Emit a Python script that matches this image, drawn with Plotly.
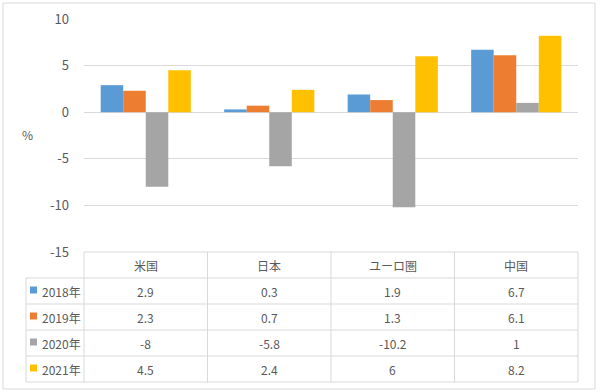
import plotly.graph_objects as go

categories = ["米国", "日本", "ユーロ圏", "中国"]
series_names = ["2018年", "2019年", "2020年", "2021年"]
v2018 = [2.9, 0.3, 1.9, 6.7]
v2019 = [2.3, 0.7, 1.3, 6.1]
v2020 = [-8, -5.8, -10.2, 1]
v2021 = [4.5, 2.4, 6, 8.2]
tick_vals = [10, 5, 0, -5, -10, -15]
tick_text = ["10", "5", "0", "-5", "-10", "-15"]
y_title = "%"

series_values = [v2018, v2019, v2020, v2021]
colors = ["#5B9BD5", "#ED7D31", "#A5A5A5", "#FFC000"]

W, H = 600, 392
ML, MR, MT, MB = 84, 22, 19, 140
PW = W - ML - MR
PH = H - MT - MB
FONT = "Noto Sans CJK JP, Noto Sans, sans-serif"
TXT = "#595959"
LINE = "#D9D9D9"


def px(xp):
    return (xp - ML) / PW


def py(yp):
    return (H - MB - yp) / PH


fig = go.Figure()
for name, vals, col in zip(series_names, series_values, colors):
    fig.add_trace(go.Bar(x=categories, y=vals, name=name, marker_color=col,
                         marker_line_width=0, showlegend=False))

shapes = []
annotations = []

# outer border
shapes.append(dict(type="rect", xref="paper", yref="paper",
                   x0=px(3), x1=px(595), y0=py(389), y1=py(3),
                   line=dict(color=LINE, width=1)))

n = len(categories)
table_top = H - MB
row_h = 26
rows_y = [table_top + i * row_h for i in range(len(series_names) + 2)]
leg_left = 26

# horizontal table lines
shapes.append(dict(type="line", xref="paper", yref="paper", x0=0, x1=1,
                   y0=py(rows_y[0]), y1=py(rows_y[0]), line=dict(color=LINE, width=1)))
for yy in rows_y[1:]:
    shapes.append(dict(type="line", xref="paper", yref="paper", x0=px(leg_left), x1=1,
                       y0=py(yy), y1=py(yy), line=dict(color=LINE, width=1)))
# vertical table lines
shapes.append(dict(type="line", xref="paper", yref="paper", x0=px(leg_left), x1=px(leg_left),
                   y0=py(rows_y[1]), y1=py(rows_y[-1]), line=dict(color=LINE, width=1)))
for i in range(n + 1):
    shapes.append(dict(type="line", xref="paper", yref="paper", x0=i / n, x1=i / n,
                       y0=py(rows_y[0]), y1=py(rows_y[-1]), line=dict(color=LINE, width=1)))


def label(x, y, text, xanchor="center"):
    return dict(xref="paper", yref="paper", x=x, y=y, text=text, showarrow=False,
                xanchor=xanchor, yanchor="middle",
                font=dict(size=12, color=TXT, family=FONT))


# header
for i, c in enumerate(categories):
    annotations.append(label((i + 0.5) / n, py((rows_y[0] + rows_y[1]) / 2), c))

# rows
for r, (name, vals, col) in enumerate(zip(series_names, series_values, colors)):
    ymid = (rows_y[r + 1] + rows_y[r + 2]) / 2
    shapes.append(dict(type="rect", xref="paper", yref="paper",
                       x0=px(30), x1=px(37), y0=py(ymid + 2.5), y1=py(ymid - 4.5),
                       fillcolor=col, line=dict(width=0)))
    annotations.append(label(px(40), py(ymid), name, xanchor="left"))
    for i, v in enumerate(vals):
        annotations.append(label((i + 0.5) / n, py(ymid), f"{v:g}"))

annotations.append(label(px(27.5), py(134), y_title))

fig.update_layout(
    width=W, height=H,
    margin=dict(l=ML, r=MR, t=MT, b=MB, pad=0, autoexpand=False),
    paper_bgcolor="white", plot_bgcolor="white",
    barmode="group", bargap=0.27, bargroupgap=0,
    font=dict(family=FONT, size=12, color=TXT),
    shapes=shapes, annotations=annotations,
    xaxis=dict(showticklabels=False, showgrid=False, zeroline=False, showline=False,
               ticks="", automargin=False),
    yaxis=dict(range=[-15, 10], tickvals=tick_vals, ticktext=tick_text,
               showgrid=True, gridcolor=LINE, gridwidth=1,
               zeroline=True, zerolinecolor=LINE, zerolinewidth=1,
               showline=False, ticks="", ticklabelstandoff=14, automargin=False,
               tickfont=dict(size=13, color=TXT, family=FONT)),
)

fig.write_html("out.html", config={"displayModeBar": False},
               post_script="document.body.style.margin='0';document.body.style.padding='0';")
